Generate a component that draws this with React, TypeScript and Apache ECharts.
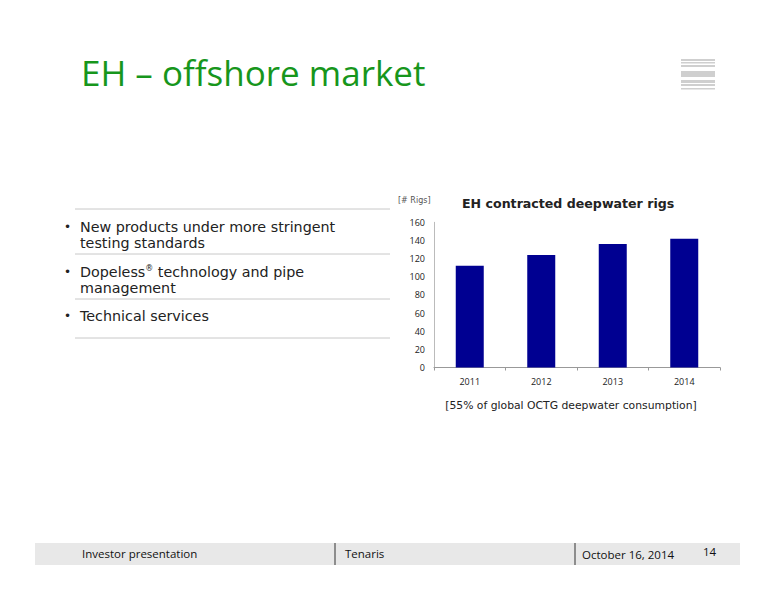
import React, { useEffect, useRef } from "react";
import * as echarts from "echarts";

const categories = ["2011", "2012", "2013", "2014"];
const rigs = [112, 124, 136, 142];
const bulletLines = [
  ["New products under more stringent", "testing standards"],
  ["Dopeless\u00AE technology and pipe", "management"],
  ["Technical services"],
];
const pageTitle = "EH \u2013 offshore market";
const chartTitle = "EH contracted deepwater rigs";
const unitLabel = "[# Rigs]";
const caption = "[55% of global OCTG deepwater consumption]";
const footerTexts = ["Investor presentation", "Tenaris", "October 16, 2014", "14"];

export default function App() {
  const ref = useRef<HTMLDivElement>(null);
  useEffect(() => {
    if (!ref.current) return;
    const chart = echarts.init(ref.current, undefined, { renderer: "svg" });
    const txt = "#222";
    const bodyFont = "'DejaVu Sans', 'Liberation Sans', sans-serif";
    const uiFont = "'Open Sans', 'Noto Sans', sans-serif";

    const graphics: any[] = [];
    // page title
    graphics.push({
      type: "text",
      style: { text: pageTitle, x: 81, y: 72, font: `35px ${uiFont}`, fill: "#17961c", verticalAlign: "middle" },
    });
    // logo stripes
    const stripes = [
      [59, 2], [62, 1.5], [65, 2], [71, 6], [80, 3], [84, 2], [88, 1.5],
    ];
    stripes.forEach(([y, h]) =>
      graphics.push({ type: "rect", shape: { x: 681, y, width: 34, height: h }, style: { fill: "#cfcfcf" } })
    );
    // bullet separators
    [209, 254, 299, 338].forEach((y) =>
      graphics.push({ type: "line", shape: { x1: 75, y1: y, x2: 390, y2: y }, style: { stroke: "#c8c8c8", lineWidth: 1 } })
    );
    const bulletTops = [227, 272, 316];
    bulletLines.forEach((lines, i) => {
      graphics.push({
        type: "text",
        style: { text: "\u2022", x: 64, y: bulletTops[i], font: `12px ${bodyFont}`, fill: txt, verticalAlign: "middle" },
      });
      lines.forEach((ln, j) => {
        const y = bulletTops[i] + j * 16;
        if (ln.includes("\u00AE")) {
          const parts = ln.split("\u00AE");
          graphics.push({
            type: "text",
            style: {
              text: `{a|${parts[0]}}{s|\u00AE}{a|${parts[1]}}`,
              x: 80, y, verticalAlign: "middle", fill: txt,
              rich: {
                a: { font: `14.3px ${bodyFont}`, fill: txt },
                s: { font: `8px ${bodyFont}`, fill: txt, padding: [0, 0, 7, 0] },
              },
            },
          });
        } else {
          graphics.push({
            type: "text",
            style: { text: ln, x: 80, y, font: `14.3px ${bodyFont}`, fill: txt, verticalAlign: "middle" },
          });
        }
      });
    });
    // chart labels
    graphics.push({
      type: "text",
      style: { text: unitLabel, x: 398, y: 200, font: `8px ${bodyFont}`, fill: "#555", verticalAlign: "middle" },
    });
    graphics.push({
      type: "text",
      style: { text: chartTitle, x: 462, y: 203, font: `bold 12.6px ${bodyFont}`, fill: txt, verticalAlign: "middle" },
    });
    graphics.push({
      type: "text",
      style: { text: caption, x: 571, y: 405, font: `10.8px ${bodyFont}`, fill: txt, align: "center", verticalAlign: "middle" },
    });
    // footer
    graphics.push({ type: "rect", shape: { x: 35, y: 543, width: 705, height: 22 }, style: { fill: "#e8e8e8" } });
    [335, 575].forEach((x) =>
      graphics.push({ type: "line", shape: { x1: x, y1: 543, x2: x, y2: 565 }, style: { stroke: "#333", lineWidth: 1 } })
    );
    const footerX = [82, 345, 582, 703];
    const footerY = [553, 553, 554, 551];
    footerTexts.forEach((t, i) =>
      graphics.push({
        type: "text",
        style: { text: t, x: footerX[i], y: footerY[i], font: `11.5px ${uiFont}`, fill: "#111", verticalAlign: "middle" },
      })
    );

    chart.setOption({
      animation: false,
      backgroundColor: "#ffffff",
      grid: { left: 434, right: 56, top: 222.3, bottom: 232.5, containLabel: false },
      xAxis: {
        type: "category",
        data: categories,
        axisLine: { lineStyle: { color: "#999" } },
        axisTick: { show: true, length: 3, lineStyle: { color: "#999" } },
        axisLabel: { color: txt, fontSize: 9, fontFamily: uiFont, margin: 9 },
      },
      yAxis: {
        type: "value",
        min: 0,
        max: 160,
        interval: 20,
        axisLine: { show: true, lineStyle: { color: "#bbb" } },
        axisTick: { show: false },
        splitLine: { show: false },
        axisLabel: { color: txt, fontSize: 9, fontFamily: uiFont, margin: 9 },
      },
      series: [
        {
          type: "bar",
          data: rigs,
          barWidth: 28,
          itemStyle: { color: "#000091" },
        },
      ],
      graphic: graphics,
    });
    return () => chart.dispose();
  }, []);
  return <div ref={ref} style={{ position: "absolute", left: 0, top: 0, width: 776, height: 600 }} />;
}
